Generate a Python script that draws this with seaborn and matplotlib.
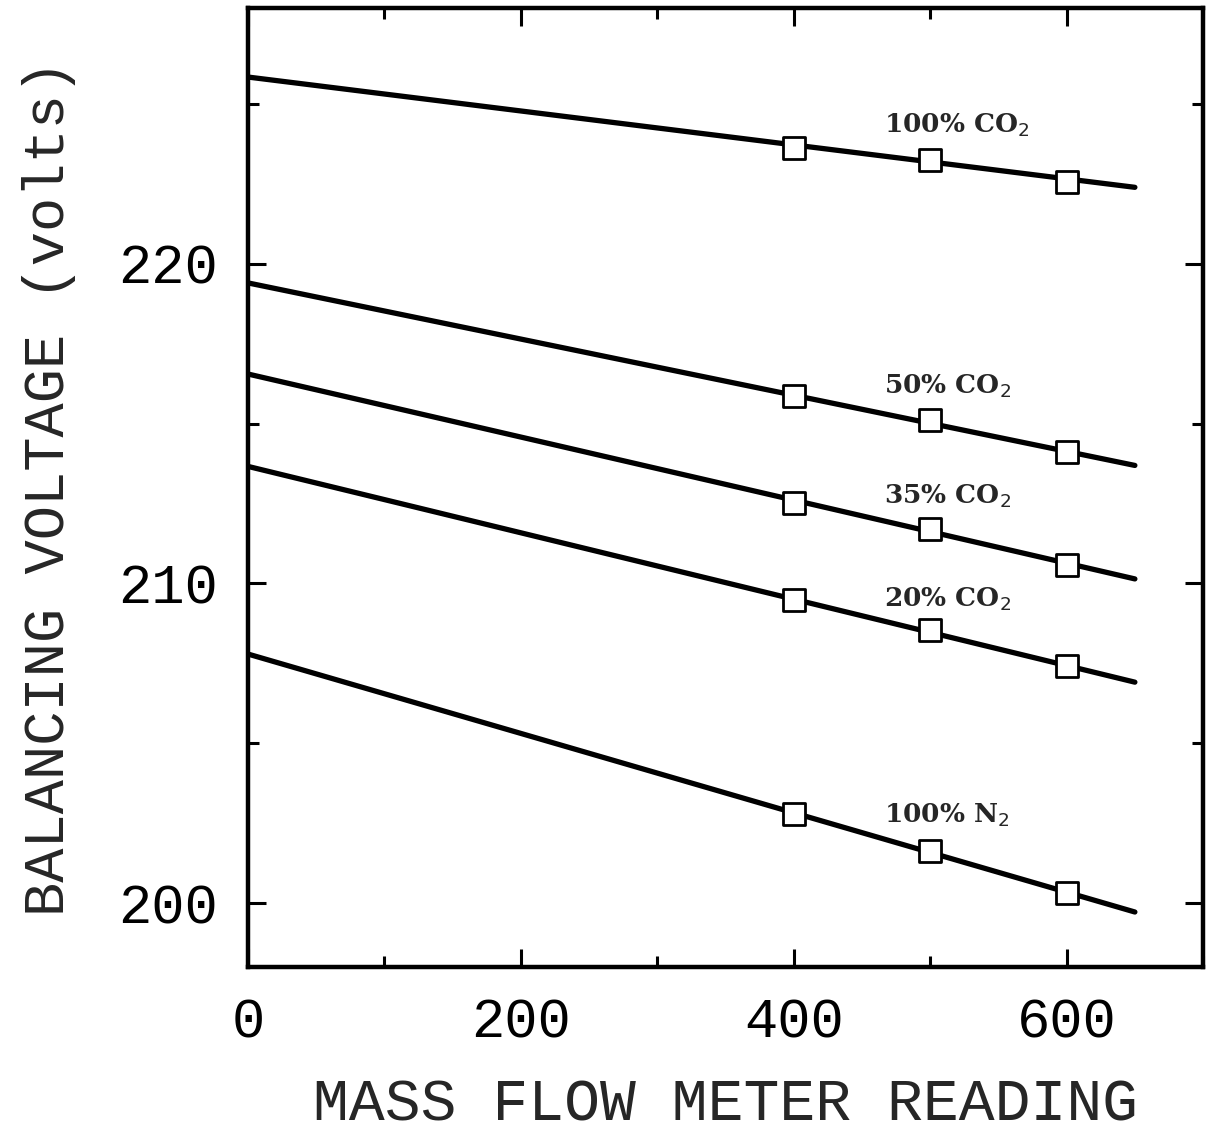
import matplotlib
matplotlib.use("Agg")
import matplotlib.pyplot as plt
import seaborn as sns
import pandas as pd
from matplotlib.ticker import MultipleLocator

# ---- data ----
series = ["100% CO$_2$", "50% CO$_2$", "35% CO$_2$", "20% CO$_2$", "100% N$_2$"]
flow_points = [400, 500, 600]
volts_100co2 = [223.61, 223.23, 222.57]
volts_50co2 = [215.86, 215.10, 214.10]
volts_35co2 = [212.53, 211.71, 210.58]
volts_20co2 = [209.48, 208.54, 207.41]
volts_100n2 = [202.79, 201.63, 200.31]

fit_x = [0, 650]
fit_100co2 = [225.84, 222.39]
fit_50co2 = [219.40, 213.69]
fit_35co2 = [216.55, 210.14]
fit_20co2 = [213.66, 206.91]
fit_100n2 = [207.79, 199.72]

label_x = [466, 466, 466, 466, 466]
label_y = [224.33, 216.17, 212.72, 209.51, 202.76]

point_sets = [volts_100co2, volts_50co2, volts_35co2, volts_20co2, volts_100n2]
fit_sets = [fit_100co2, fit_50co2, fit_35co2, fit_20co2, fit_100n2]

pts = pd.DataFrame([(s, x, v) for s, vals in zip(series, point_sets) for x, v in zip(flow_points, vals)],
                   columns=["series", "flow", "volts"])
fits = pd.DataFrame([(s, x, v) for s, vals in zip(series, fit_sets) for x, v in zip(fit_x, vals)],
                    columns=["series", "flow", "volts"])

sns.set_style("ticks")
plt.rcParams["font.family"] = ["Liberation Mono", "DejaVu Sans Mono"]

fig = plt.figure(figsize=(12.06, 11.41), dpi=100)
ax = fig.add_axes([0.2056, 0.1525, 0.792, 0.8405])

sns.lineplot(data=fits, x="flow", y="volts", units="series", estimator=None,
             color="black", linewidth=3.8, ax=ax, legend=False)
sns.scatterplot(data=pts, x="flow", y="volts", marker="s", s=230,
                facecolor="white", edgecolor="black", linewidth=2.0, ax=ax,
                legend=False, zorder=3)

for name, lx, ly in zip(series, label_x, label_y):
    ax.text(lx, ly, name, ha="left", va="center", fontsize=19,
            fontweight="bold", family="DejaVu Serif")

ax.set_xlim(0, 700)
ax.set_ylim(198, 228)
ax.xaxis.set_major_locator(MultipleLocator(200))
ax.xaxis.set_minor_locator(MultipleLocator(100))
ax.set_yticks([200, 210, 220])
ax.yaxis.set_minor_locator(MultipleLocator(5))

ax.tick_params(which="both", direction="in", top=True, right=True, width=2.2, colors="black")
ax.tick_params(which="major", length=13, labelsize=40, pad=22)
ax.tick_params(which="minor", length=8)

for sp in ax.spines.values():
    sp.set_linewidth(3.2)
    sp.set_color("black")

ax.set_xlabel("MASS FLOW METER READING", fontsize=43, labelpad=20)
ax.set_ylabel("BALANCING VOLTAGE (volts)", fontsize=41, labelpad=30)

fig.savefig("out.png", dpi=100)
